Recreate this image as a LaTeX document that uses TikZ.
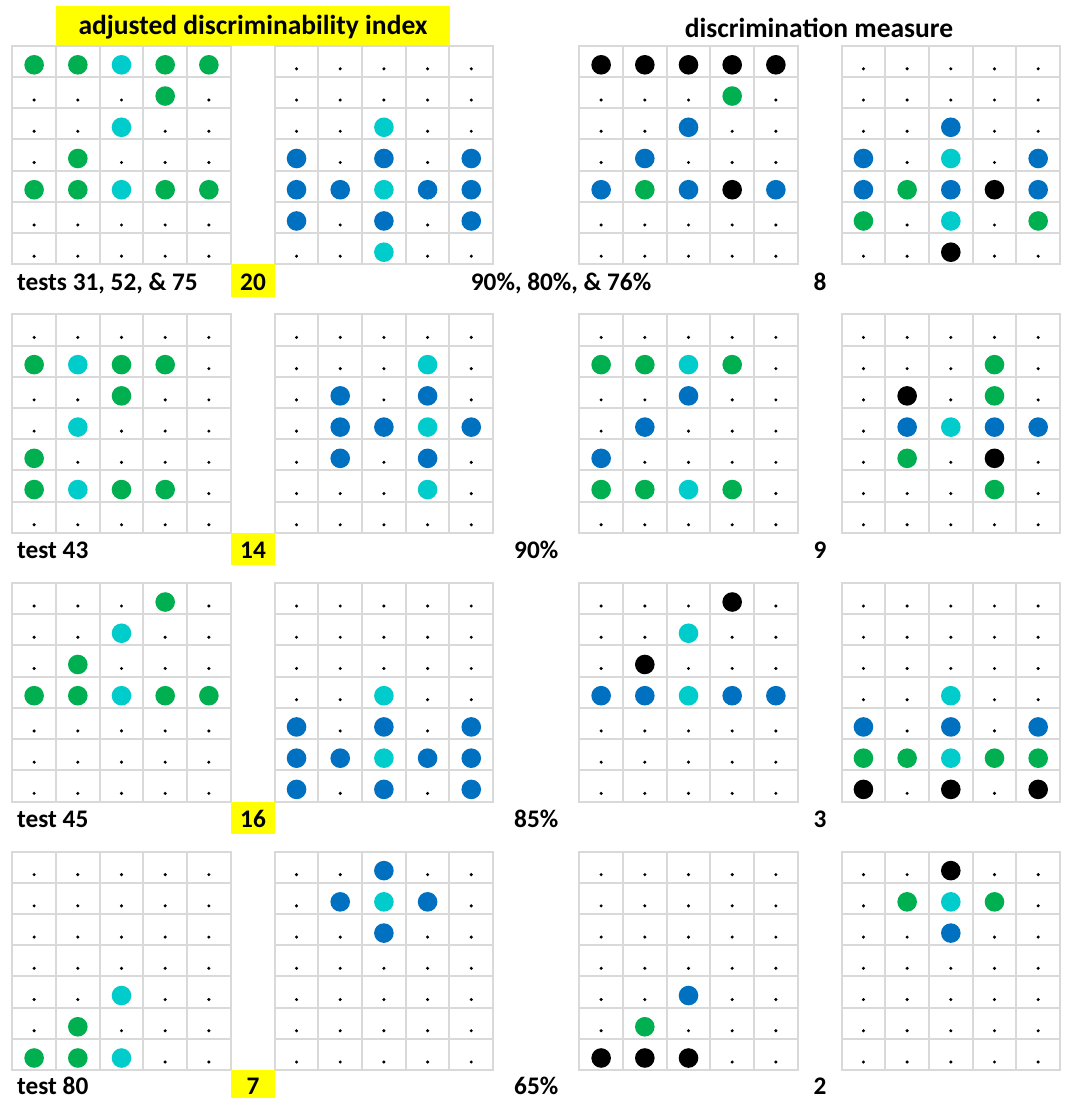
\documentclass[tikz,border=0pt]{standalone}
\usepackage{fontspec}
\setmainfont{Carlito}
\definecolor{cgreen}{HTML}{00B050}
\definecolor{ccyan}{HTML}{00CCCC}
\definecolor{cblue}{HTML}{0070C0}
\definecolor{cgrid}{HTML}{D9D9D9}
\definecolor{cyel}{HTML}{FFFF00}
\tikzset{
  gridline/.style={draw=cgrid, line width=1.5pt, line cap=rect},
  mkd/.style={fill=black, radius=1.7pt, yshift=-7.5pt},
  mkG/.style={fill=cgreen, radius=9.8pt, yshift=-3.5pt},
  mkC/.style={fill=ccyan, radius=9.8pt, yshift=-3.5pt},
  mkB/.style={fill=cblue, radius=9.8pt, yshift=-3.5pt},
  mkK/.style={fill=black, radius=9.8pt, yshift=-3.5pt},
  labfont/.style={font=\fontsize{25.3pt}{30pt}\selectfont\bfseries},
  ybox/.style={fill=cyel, inner sep=0pt},
  numbox/.style={ybox, labfont, minimum width=44.6pt, minimum height=32.4pt, text height=24pt, text depth=5pt},
  lab/.style={labfont, inner sep=0pt, anchor=base west},
  labc/.style={labfont, inner sep=0pt, anchor=base},
}
\newcommand\drawpanel[3]{%
  \pgfmathsetmacro\ptop{round(#2)}
  \pgfmathsetmacro\pbot{round(#2+218.6)}
  \pgfmathsetmacro\plft{round(#1)}
  \pgfmathsetmacro\prgt{round(#1+218.4)}
  \foreach \k in {0,...,5} {\pgfmathsetmacro\gx{round(#1+\k*43.68)}
    \draw[gridline] (\gx,\ptop) -- (\gx,\pbot);}
  \foreach \k in {0,...,7} {\pgfmathsetmacro\gy{round(#2+\k*31.23)}
    \draw[gridline] (\plft,\gy) -- (\prgt,\gy);}
  \foreach \c [count=\i from 0] in {#3} {
    \pgfmathtruncatemacro\pcol{mod(\i,5)}
    \pgfmathtruncatemacro\prow{div(\i,5)}
    \fill[mk\c] ({#1+(\pcol+0.5)*43.68},{#2+(\prow+0.5)*31.23}) circle[];
  }
}
\begin{document}
\begin{tikzpicture}[x=1pt,y=-1pt,font=\fontsize{27.5pt}{33pt}\selectfont\bfseries]
\useasboundingbox (0,0) rectangle (1068,1099);
\fill[white] (0,0) rectangle (1068,1099);

% headers
\node[ybox, minimum width=394pt, minimum height=39.7pt, text height=23.3pt, text depth=5pt] (title) at (253,25.85) {adjusted discriminability index};
\node[inner sep=0pt, anchor=base] (head2) at (819,38) {discrimination measure};

% row 1
\drawpanel{12.3}{45.7}{G,G,C,G,G, d,d,d,G,d, d,d,C,d,d, d,G,d,d,d, G,G,C,G,G, d,d,d,d,d, d,d,d,d,d}
\drawpanel{274.7}{45.7}{d,d,d,d,d, d,d,d,d,d, d,d,C,d,d, B,d,B,d,B, B,B,C,B,B, B,d,B,d,B, d,d,C,d,d}
\drawpanel{579.3}{45.7}{K,K,K,K,K, d,d,d,G,d, d,d,B,d,d, d,B,d,d,d, B,G,B,K,B, d,d,d,d,d, d,d,d,d,d}
\drawpanel{841.6}{45.7}{d,d,d,d,d, d,d,d,d,d, d,d,B,d,d, B,d,C,d,B, B,G,B,K,B, G,d,C,d,G, d,d,K,d,d}
\node[lab] (t1) at (17,290) {tests 31, 52, \& 75};
\node[numbox] (n1) at (253,280.5) {20};
\node[lab] (p1) at (470.7,290) {90\%, 80\%, \& 76\%};
\node[labc] (m1) at (820,290) {8};

% row 2
\drawpanel{12.3}{314.3}{d,d,d,d,d, G,C,G,G,d, d,d,G,d,d, d,C,d,d,d, G,d,d,d,d, G,C,G,G,d, d,d,d,d,d}
\drawpanel{274.7}{314.3}{d,d,d,d,d, d,d,d,C,d, d,B,d,B,d, d,B,B,C,B, d,B,d,B,d, d,d,d,C,d, d,d,d,d,d}
\drawpanel{579.3}{314.3}{d,d,d,d,d, G,G,C,G,d, d,d,B,d,d, d,B,d,d,d, B,d,d,d,d, G,G,C,G,d, d,d,d,d,d}
\drawpanel{841.6}{314.3}{d,d,d,d,d, d,d,d,G,d, d,K,d,G,d, d,B,C,B,B, d,G,d,K,d, d,d,d,G,d, d,d,d,d,d}
\node[lab] (t2) at (17,558.6) {test 43};
\node[numbox] (n2) at (253,549.1) {14};
\node[lab] (p2) at (514,558.6) {90\%};
\node[labc] (m2) at (820,558.6) {9};

% row 3
\drawpanel{12.3}{582.9}{d,d,d,G,d, d,d,C,d,d, d,G,d,d,d, G,G,C,G,G, d,d,d,d,d, d,d,d,d,d, d,d,d,d,d}
\drawpanel{274.7}{582.9}{d,d,d,d,d, d,d,d,d,d, d,d,d,d,d, d,d,C,d,d, B,d,B,d,B, B,B,C,B,B, B,d,B,d,B}
\drawpanel{579.3}{582.9}{d,d,d,K,d, d,d,C,d,d, d,K,d,d,d, B,B,C,B,B, d,d,d,d,d, d,d,d,d,d, d,d,d,d,d}
\drawpanel{841.6}{582.9}{d,d,d,d,d, d,d,d,d,d, d,d,d,d,d, d,d,C,d,d, B,d,B,d,B, G,G,C,G,G, K,d,K,d,K}
\node[lab] (t3) at (17,827.2) {test 45};
\node[numbox] (n3) at (253,817.7) {16};
\node[lab] (p3) at (514,827.2) {85\%};
\node[labc] (m3) at (820,827.2) {3};

% row 4
\drawpanel{12.3}{851.5}{d,d,d,d,d, d,d,d,d,d, d,d,d,d,d, d,d,d,d,d, d,d,C,d,d, d,G,d,d,d, G,G,C,d,d}
\drawpanel{274.7}{851.5}{d,d,B,d,d, d,B,C,B,d, d,d,B,d,d, d,d,d,d,d, d,d,d,d,d, d,d,d,d,d, d,d,d,d,d}
\drawpanel{579.3}{851.5}{d,d,d,d,d, d,d,d,d,d, d,d,d,d,d, d,d,d,d,d, d,d,B,d,d, d,G,d,d,d, K,K,K,d,d}
\drawpanel{841.6}{851.5}{d,d,K,d,d, d,G,C,G,d, d,d,B,d,d, d,d,d,d,d, d,d,d,d,d, d,d,d,d,d, d,d,d,d,d}
\node[lab] (t4) at (17,1094.3) {test 80};
\node[numbox, minimum height=27.9pt, text height=24.2pt, text depth=3.7pt] (n4) at (253,1084.05) {7};
\node[lab] (p4) at (514,1094.3) {65\%};
\node[labc] (m4) at (820,1094.3) {2};
\end{tikzpicture}
\end{document}
